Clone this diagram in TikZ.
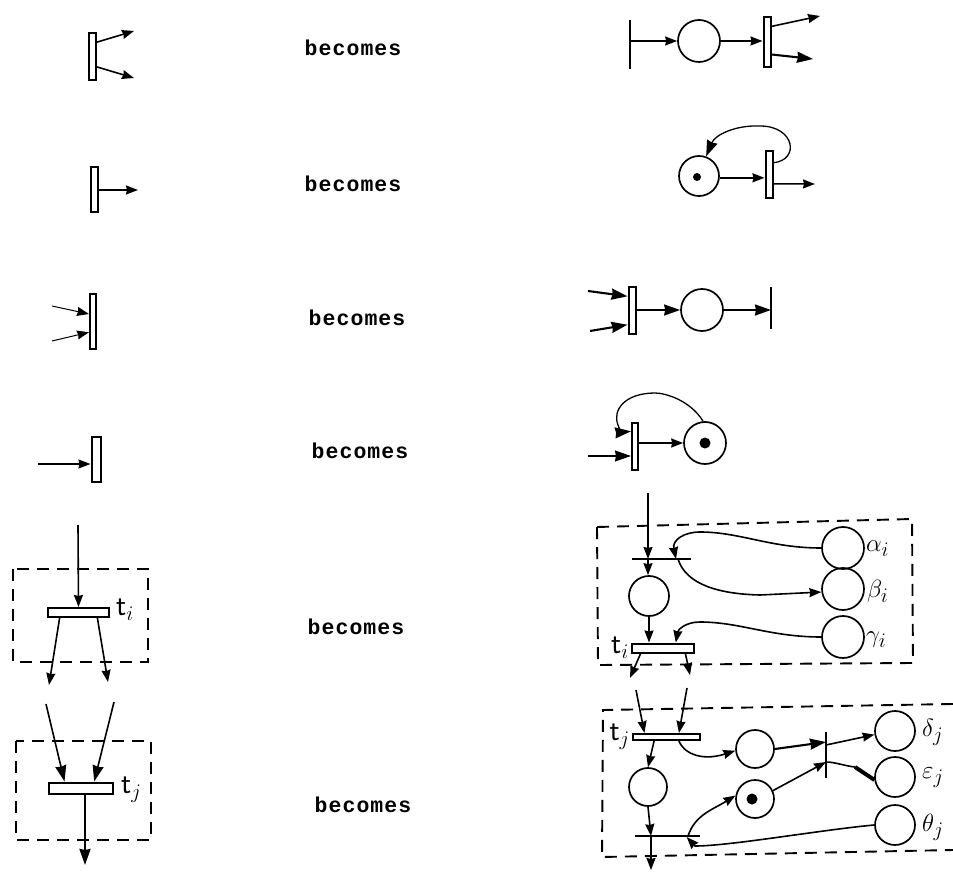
\documentclass[tikz,border=0pt]{standalone}
\usepackage{fontspec}
\newfontfamily\becfont[LetterSpace=5]{Liberation Mono Bold}
\usetikzlibrary{arrows.meta,calc}
\tikzset{
 arr/.style={-{Stealth[length=12pt,width=9pt,inset=1pt]},line width=1.6pt},
 arrb/.style={-{Stealth[length=16pt,width=11pt,inset=1pt]},line width=2.1pt},
 bar/.style={draw,line width=2pt,fill=white,inner sep=0pt,rectangle},
 vbar/.style={bar,minimum width=7pt},
 hbar/.style={bar,minimum height=8pt},
 thin bar/.style={inner sep=0pt,rectangle,fill=black},
 place/.style={draw,circle,line width=1.7pt,inner sep=0pt,minimum size=42pt},
 token/.style={circle,fill=black,inner sep=0pt,minimum size=8pt},
 bec/.style={font=\becfont\fontsize{21.5}{24}\selectfont,inner sep=0pt},
 lab/.style={font=\fontsize{30}{32}\selectfont,inner sep=0pt},
 box/.style={dashed,dash pattern=on 12pt off 8pt,line width=1.6pt},
}
\begin{document}
\begin{tikzpicture}[x=1pt,y=-1pt]
\useasboundingbox (0,0) rectangle (953,874);

% becomes labels
\node[bec] (w1) at (353,48) {becomes};
\node[bec] (w2) at (353,184) {becomes};
\node[bec] (w3) at (357,318) {becomes};
\node[bec] (w4) at (360,451) {becomes};
\node[bec] (w5) at (356,627) {becomes};
\node[bec] (w6) at (363,805) {becomes};

% row 1 left
\node[vbar,minimum height=47pt] (a1) at (92,57) {};
\coordinate (a1x) at (134,31); \coordinate (a1y) at (134,78);
\draw[arr] ($(a1.north east)!.2!(a1.south east)$) -- (a1x);
\draw[arr] ($(a1.north east)!.7!(a1.south east)$) -- (a1y);

% row 1 right
\node[thin bar,minimum width=2.4pt,minimum height=49pt] (b1) at (630,45) {};
\node[place] (b2) at (699,41) {};
\node[vbar,minimum height=50pt] (b3) at (767,42) {};
\coordinate (b3x) at (820,16); \coordinate (b3y) at (813,59);
\draw[arr] (b1 |- b2) -- (b2.west);
\draw[arr] (b2.east) -- (b2.east -| b3.west);
\draw[arr] ($(b3.north east)!.2!(b3.south east)$) -- (b3x);
\draw[arrb] ($(b3.north east)!.74!(b3.south east)$) -- (b3y);

% row 2 left
\node[vbar,minimum height=45pt] (c1) at (94,190) {};
\coordinate (c1x) at (138,190);
\draw[arr] (c1.east) -- (c1x);

% row 2 right
\node[place,minimum size=40pt] (d1) at (699,176) {};
\node[token] (d1t) at (697,177) {};
\node[vbar,minimum height=47pt] (d2) at (769,175) {};
\coordinate (d2x) at (815,184);
\draw[arr] (d1.-5) -- (d1.-5 -| d2.west);
\draw[arr] ($(d2.north east)!.68!(d2.south east)$) -- (d2x);
\draw[arrb,line width=1.3pt] ($(d2.north east)!.25!(d2.south east)$) .. controls (800,160) and (795,126) .. (760,126) .. controls (735,125) and (715,135) .. (d1.70);

% row 3 left
\node[vbar,minimum width=6pt,minimum height=55pt] (e1) at (93,322) {};
\coordinate (e1x) at (52,306); \coordinate (e1y) at (52,341);
\draw[arr,line width=1pt] (e1x) -- ($(e1.north west)!.36!(e1.south west)$);
\draw[arr,line width=1pt] (e1y) -- ($(e1.north west)!.68!(e1.south west)$);

% row 3 right
\node[vbar,minimum height=47pt] (f1) at (632,311) {};
\node[place] (f2) at (702,310) {};
\node[thin bar,minimum width=2.8pt,minimum height=42pt] (f3) at (771,308) {};
\coordinate (f1x) at (588,291); \coordinate (f1y) at (590,331);
\draw[arrb] (f1x) -- ($(f1.north west)!.2!(f1.south west)$);
\draw[arrb] (f1y) -- ($(f1.north west)!.78!(f1.south west)$);
\draw[arrb,line width=1.6pt] (f2.west -| f1.east) -- (f2.west);
\draw[arrb] (f2.east) -- (f3.center |- f2.east);

% row 4 left
\node[vbar,minimum width=9pt,minimum height=45pt] (g1) at (96,459) {};
\coordinate (g1x) at (38,464);
\draw[arr] (g1x) -- (g1x -| g1.west);

% row 4 right
\node[vbar,minimum width=6pt,minimum height=47pt] (h1) at (635,446) {};
\node[place] (h2) at (705,443) {};
\node[token,minimum size=11pt] (h2t) at (705,443) {};
\coordinate (h1x) at (588,456);
\draw[arr] (h2.west -| h1.east) -- (h2.west);
\draw[arrb,line width=1.6pt] (h1x) -- (h1x -| h1.west);
\draw[arrb,line width=1.3pt] (h2.95) .. controls (690,400) and (665,393) .. (655,393) .. controls (625,393) and (612,410) .. (618,425) .. controls (620,432) and (624,432) .. ($(h1.north west)!.2!(h1.south west)$);

% row 5 left
\draw[box,line width=1.2pt] (13,569) rectangle (148,662);
\node[hbar,minimum width=61pt,minimum height=9pt] (k1) at (78.5,612.5) {};
\coordinate (k0) at (78,525); \coordinate (k2) at (49,685); \coordinate (k3) at (108,682);
\draw[arr] (k0) -- (k1.north);
\draw[arr] ($(k1.south west)!.2!(k1.south east)$) -- (k2);
\draw[arr] ($(k1.south west)!.8!(k1.south east)$) -- (k3);
\node[lab,anchor=west] (k1l) at (116,610) {$\mathsf{t}_i$};

% row 6 left
\draw[box] (16,741) rectangle (151,840);
\node[hbar,minimum width=64pt,minimum height=11pt] (m1) at (81,788) {};
\coordinate (m0) at (46,704); \coordinate (m2) at (114,702); \coordinate (m3) at (85,865);
\draw[arrb,line width=1.6pt] (m0) -- ($(m1.north west)!.25!(m1.north east)$);
\draw[arrb,line width=1.6pt] (m2) -- ($(m1.north west)!.7!(m1.north east)$);
\draw[arrb] (m1.south -| m3) -- (m3);
\node[lab,anchor=west] (m1l) at (121,790) {$\mathsf{t}_j$};

% row 5 right
\draw[box,line width=1.9pt] (597,527) -- (912,519) -- (913,663) -- (598,665) -- cycle;
\node[thin bar,minimum width=59pt,minimum height=2pt] (n1) at (661.5,559) {};
\node[place,minimum size=40pt] (n2) at (649,596) {};
\node[hbar,minimum width=62pt,minimum height=9pt] (n3) at (663,648) {};
\node[place] (na) at (843,548) {};
\node[place] (nb) at (843,589) {};
\node[place] (nc) at (843,637) {};
\coordinate (n0) at (648,493); \coordinate (n4) at (630,678); \coordinate (n5) at (690,675);
\coordinate (n1p) at (676,559); \coordinate (n1q) at (678,559);
\draw[arr] (n0) -- (n0 |- n1);
\draw[arr] (n0 |- n1) -- (n2.north -| n0);
\draw[arr] (n2.south) -- (n2.south |- n3.north);
\draw[arr] (na.west) .. controls (770,548) and (740,532) .. (700,532) .. controls (684,532) and (672,540) .. (n1p);
\draw[arr] (n1q) .. controls (686,585) and (720,594) .. (760,595) -- (nb.188);
\draw[arr] (nc.west) .. controls (770,637) and (740,622) .. (700,622) .. controls (685,622) and (678,630) .. ($(n3.north west)!.7!(n3.north east)$);
\draw[arr] ($(n3.south west)!.15!(n3.south east)$) -- (n4);
\draw[arr] ($(n3.south west)!.85!(n3.south east)$) -- (n5);
\node[lab,anchor=west] (nal) at (866,549) {$\alpha_i$};
\node[lab,anchor=west] (nbl) at (867,591) {$\beta_i$};
\node[lab,anchor=west] (ncl) at (866,640) {$\gamma_i$};
\node[lab,anchor=east] (n3l) at (629,648) {$\mathsf{t}_i$};

% row 6 right
\draw[box,line width=1.9pt] (953,704) -- (603,710) -- (602,857) -- (953,850);
\node[hbar,minimum width=67pt,minimum height=6pt] (p1) at (666.5,737) {};
\node[place,minimum size=38pt] (p2) at (648,787) {};
\node[place,minimum size=38pt] (p3) at (755,749) {};
\node[place,minimum size=38pt] (p4) at (755,799) {};
\node[token,minimum size=11pt] (p4t) at (752,799) {};
\node[thin bar,minimum width=2.8pt,minimum height=46pt] (p5) at (826,755) {};
\node[thin bar,minimum width=65pt,minimum height=2.4pt] (p6) at (667,836) {};
\node[place,minimum size=40pt] (pd) at (895,731) {};
\node[place,minimum size=40pt] (pe) at (895,777) {};
\node[place,minimum size=40pt] (pt) at (895,825) {};
\coordinate (p1a) at (636,690); \coordinate (p1b) at (687,688); \coordinate (p6o) at (651,870);
\draw[arr] (p1a) -- ($(p1.north west)!.18!(p1.north east)$);
\draw[arr] (p1b) -- ($(p1.north west)!.68!(p1.north east)$);
\draw[arr] ($(p1.south west)!.32!(p1.south east)$) -- (p2.north);
\draw[arr] ($(p1.south west)!.68!(p1.south east)$) .. controls (683,752) and (700,762) .. (p3.185);
\draw[arr] (p2.south) -- (p6o |- p6);
\draw[arr] (p6o |- p6) -- (p6o);
\draw[arrb] (p3.east) -- (p5.center |- 0,742);
\draw[arr] (p5.center |- 0,745) -- (pd.190);
\draw[arr] (p4.25) -- (p5.center |- 0,762);
\draw[line width=1.6pt] (p5.center |- 0,762) .. controls (835,762) and (845,766) .. (855,767);
\draw[line width=4pt] (855,767) -- (pe.188);
\draw[arr] (688,836) .. controls (695,815) and (712,810) .. (p4.170);
\draw[arr] (pt.west) .. controls (820,830) and (730,846) .. (695,846) -- ($(p6.east)+(-13,1)$);
\node[lab,anchor=west] (pdl) at (922,732) {$\delta_j$};
\node[lab,anchor=west] (pel) at (922,778) {$\varepsilon_j$};
\node[lab,anchor=west] (ptl) at (922,827) {$\theta_j$};
\node[lab,anchor=east] (p1l) at (630,737) {$\mathsf{t}_j$};
\end{tikzpicture}
\end{document}
